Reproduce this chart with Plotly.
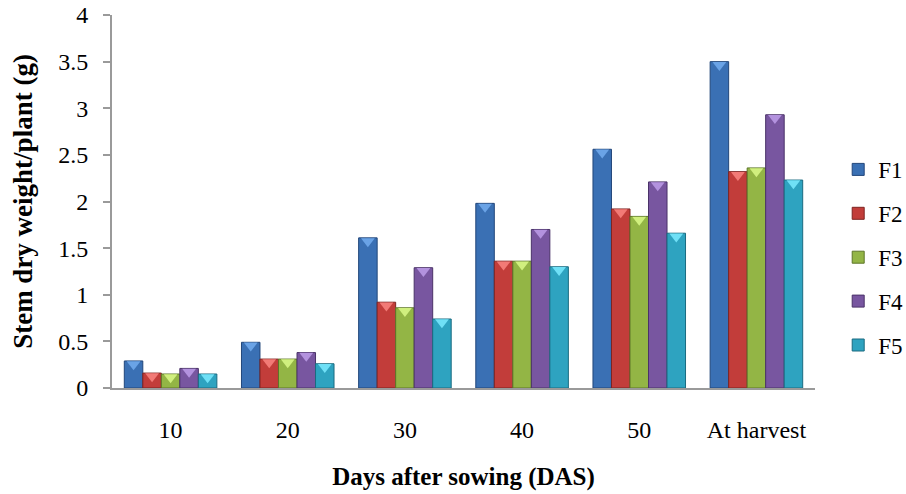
import plotly.graph_objects as go

# Stem dry weight per plant (g) for five treatments at each sampling stage
stages = ["10", "20", "30", "40", "50", "At harvest"]
f1 = [0.29, 0.49, 1.61, 1.98, 2.56, 3.50]
f2 = [0.16, 0.31, 0.92, 1.36, 1.92, 2.32]
f3 = [0.15, 0.31, 0.86, 1.36, 1.84, 2.36]
f4 = [0.21, 0.38, 1.29, 1.70, 2.21, 2.93]
f5 = [0.15, 0.26, 0.74, 1.30, 1.66, 2.23]

y_ticks = [0, 0.5, 1, 1.5, 2, 2.5, 3, 3.5, 4]
y_tick_text = ["0", "0.5", "1", "1.5", "2", "2.5", "3", "3.5", "4"]

series = [
    ("F1", f1, "#3a70b4", "#22467a", "#6aa3e6"),
    ("F2", f2, "#c23d3a", "#7e2321", "#f27a76"),
    ("F3", f3, "#93b545", "#5d7628", "#d0ef7e"),
    ("F4", f4, "#7856a0", "#4a3268", "#b392de"),
    ("F5", f5, "#2ea3c0", "#1a6b80", "#6fe0f6"),
]

FONT = "Liberation Serif, Times New Roman, serif"
GAP = 0.21

fig = go.Figure()
for name, vals, fill, edge, light in series:
    fig.add_trace(go.Bar(
        x=stages, y=vals, name=name, offsetgroup=name, legendgroup=name,
        marker=dict(color=fill, line=dict(color=edge, width=1)),
    ))
# light bevel cap on top of each bar
for name, vals, fill, edge, light in series:
    fig.add_trace(go.Scatter(
        x=stages, y=[v - 0.035 for v in vals], mode="markers",
        offsetgroup=name, showlegend=False, hoverinfo="skip",
        marker=dict(symbol="triangle-down", size=12, color=light,
                    line=dict(width=0)),
    ))

fig.update_layout(
    width=906, height=494,
    margin=dict(l=112, r=91, t=15, b=106, autoexpand=False),
    paper_bgcolor="white", plot_bgcolor="white",
    barmode="group", bargap=GAP, bargroupgap=0,
    scattermode="group", scattergap=GAP,
    font=dict(family=FONT, size=24, color="black"),
    legend=dict(
        x=1.033, xanchor="left", y=0.35, yanchor="middle",
        font=dict(family=FONT, size=23, color="black"),
        tracegroupgap=11, itemwidth=30, bgcolor="rgba(0,0,0,0)",
    ),
)
fig.update_xaxes(
    type="category", showline=True, linecolor="#9a9a9a", linewidth=2,
    ticks="", showgrid=False, ticklabelstandoff=19, automargin=False,
    title=dict(text="<b>Days after sowing (DAS)</b>", standoff=26,
               font=dict(family=FONT, size=25, color="black")),
)
fig.update_yaxes(
    range=[0, 4], tickvals=y_ticks, ticktext=y_tick_text,
    showline=True, linecolor="#9a9a9a", linewidth=2,
    ticks="outside", ticklen=7, tickwidth=2, tickcolor="#9a9a9a",
    showgrid=False, zeroline=False, ticklabelstandoff=10, automargin=False,
    title=dict(text="<b>Stem dry weight/plant (g)</b>", standoff=18,
               font=dict(family=FONT, size=27, color="black")),
)

fig.write_html("out.html")
